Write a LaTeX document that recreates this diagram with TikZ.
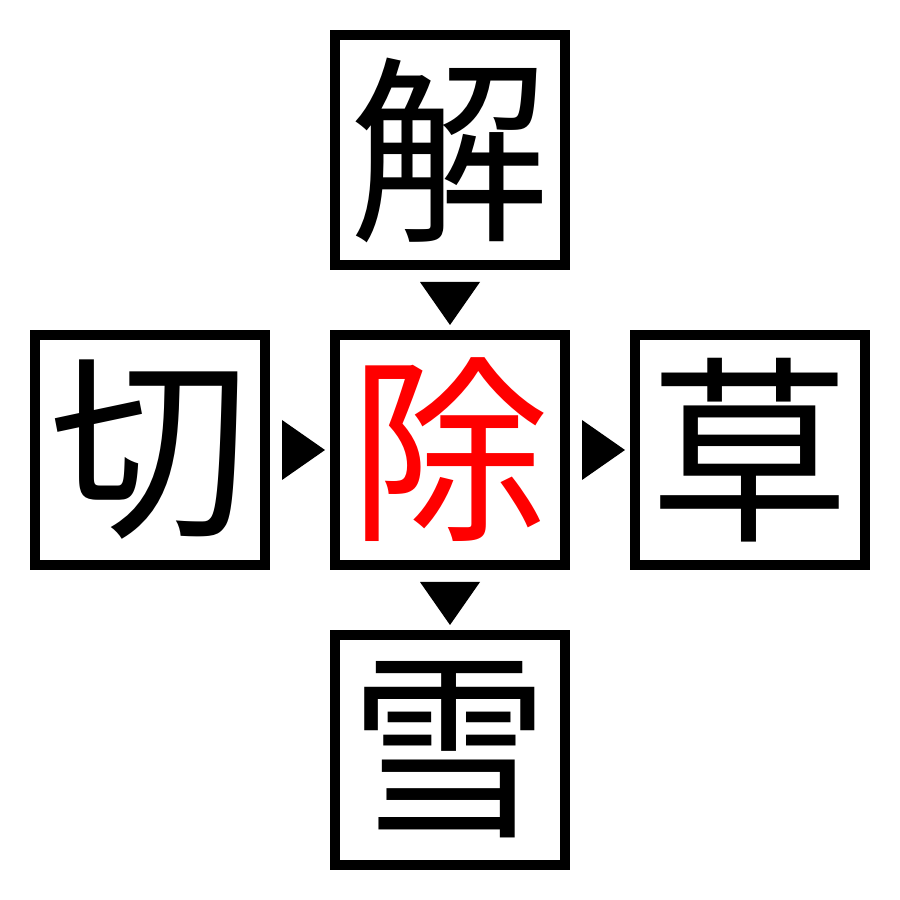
\documentclass[tikz,border=0pt]{standalone}
\usepackage{fontspec}
\newfontfamily\cjk{Noto Sans CJK JP}
\usetikzlibrary{calc}
\tikzstyle{kanji} = [draw, line width=0.1cm, rectangle, inner sep=0pt,
    minimum size=2.3cm, font=\cjk\fontsize{57}{57}\selectfont]
\tikzstyle{pointer} = [fill=black]

\begin{document}
\begin{tikzpicture}[node distance=3cm]
    \useasboundingbox (0,0) rectangle (9,9);
    \node [kanji, text=red] (center) at (4.5,4.5) {除};
    \node [kanji, above of=center] (top) {解};
    \node [kanji, left of=center] (left) {切};
    \node [kanji, right of=center] (right) {草};
    \node [kanji, below of=center] (bottom) {雪};
    \fill [pointer] ([yshift=-0.12cm]top.south) ++(-0.3,0) -- ++(0.6,0) -- ++(-0.3,-0.43) -- cycle;
    \fill [pointer] ([yshift=-0.12cm]center.south) ++(-0.3,0) -- ++(0.6,0) -- ++(-0.3,-0.43) -- cycle;
    \fill [pointer] ([xshift=0.12cm]left.east) ++(0,0.3) -- ++(0,-0.6) -- ++(0.43,0.3) -- cycle;
    \fill [pointer] ([xshift=0.12cm]center.east) ++(0,0.3) -- ++(0,-0.6) -- ++(0.43,0.3) -- cycle;
\end{tikzpicture}
\end{document}
